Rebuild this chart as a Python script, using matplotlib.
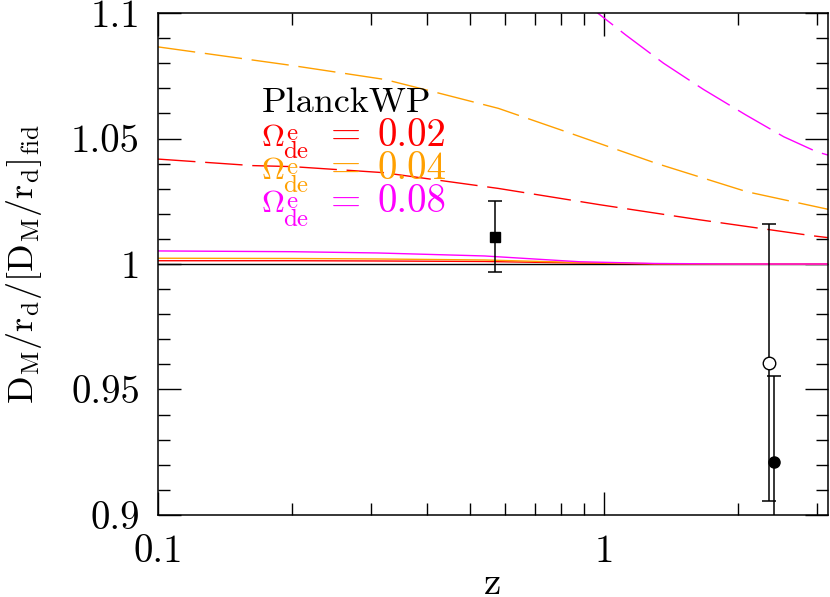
import numpy as np
import matplotlib
matplotlib.use('Agg')
import matplotlib.pyplot as plt
from matplotlib.ticker import MultipleLocator, LogLocator, NullFormatter

plt.rcParams['font.family'] = ['cmr10', 'DejaVu Serif']
plt.rcParams['mathtext.fontset'] = 'cm'
plt.rcParams['axes.unicode_minus'] = False

W, H = 830, 597

# BAO data points (z, D_M/r_d ratio, error)
z_sq, v_sq, e_sq = [0.571], [1.0109], [0.014]
z_open, v_open, e_open = [2.35], [0.9607], [0.0553]
z_fill, v_fill, e_fill = [2.41], [0.9212], [0.0342]

# solid curves
z_sol = [0.1, 0.2, 0.31, 0.54, 0.88, 1.3, 2.0, 3.18]
mag_sol = [1.0052, 1.0049, 1.0044, 1.0032, 1.0009, 1.0002, 1.0, 1.0]
ora_sol = [1.0023, 1.0022, 1.0020, 1.0016, 1.0006, 1.0001, 1.0, 1.0]
red_sol = [1.0013, 1.0013, 1.0012, 1.0010, 1.0004, 1.0, 1.0, 1.0]

# dashed curves
z_red_d = [0.1, 0.163, 0.2, 0.32, 0.58, 0.98, 1.64, 2.92, 3.18]
red_d = [1.0418, 1.0392, 1.0388, 1.0364, 1.0301, 1.0236, 1.0176, 1.0113, 1.0105]
z_ora_d = [0.1, 0.196, 0.233, 0.323, 0.407, 0.58, 0.822, 1.31, 2.09, 3.18]
ora_d = [1.0865, 1.0793, 1.0773, 1.0735, 1.0690, 1.0620, 1.0527, 1.0401, 1.0288, 1.0218]
z_mag_d = [0.9, 0.968, 1.12, 1.36, 1.67, 2.08, 2.53, 3.0, 3.18]
mag_d = [1.1044, 1.1, 1.0912, 1.0800, 1.0696, 1.0594, 1.0507, 1.0447, 1.0434]

labels = ['0.02', '0.04', '0.08']
colors = ['#ff0000', '#ffa000', '#ff00ff']


def px(x, y):
    # pixel position (from top-left) -> figure fraction
    return x / W, 1 - y / H


fig = plt.figure(figsize=(8.3, 5.97), dpi=100)
ax = fig.add_axes([0.1904, 0.1374, 0.8072, 0.8408])

ax.plot([0.1, 3.18], [1.0, 1.0], color='k', lw=1.0)
ax.plot(z_sol, red_sol, color=colors[0], lw=1.0)
ax.plot(z_sol, ora_sol, color=colors[1], lw=1.0)
ax.plot(z_sol, mag_sol, color=colors[2], lw=1.0)

ax.plot(z_red_d, red_d, color=colors[0], lw=1.0, dashes=(27, 7))
ax.plot(z_ora_d, ora_d, color=colors[1], lw=1.0, dashes=(27, 7))
ax.plot(z_mag_d, mag_d, color=colors[2], lw=1.0, dashes=(27, 7))

eb = dict(color='k', elinewidth=1.1, capsize=5, capthick=1.1, lw=0)
ax.errorbar(z_sq, v_sq, yerr=e_sq, fmt='s', ms=6.5, **eb)
ax.errorbar(z_open, v_open, yerr=e_open, fmt='o', ms=9, mfc='white', mec='k', **eb)
ax.errorbar(z_fill, v_fill, yerr=e_fill, fmt='o', ms=8, **eb)

ax.set_xscale('log')
ax.set_xlim(0.1, 3.18)
ax.set_ylim(0.9, 1.1)
ax.set_xticks([0.1, 1], ['0.1', '1'])
ax.xaxis.set_minor_locator(LogLocator(subs=np.arange(2, 10)))
ax.xaxis.set_minor_formatter(NullFormatter())
ax.set_yticks([0.9, 0.95, 1.0, 1.05, 1.1], ['0.9', '0.95', '1', '1.05', '1.1'])
ax.yaxis.set_minor_locator(MultipleLocator(0.01))

ax.tick_params(which='both', direction='in', top=True, right=True, width=1.0,
               labelsize=28)
ax.tick_params(which='major', length=16.5)
ax.tick_params(which='minor', length=8.5)
ax.tick_params(axis='x', pad=14)
ax.tick_params(axis='y', pad=13)
for s in ax.spines.values():
    s.set_linewidth(1.1)

# legend-like text block
fig.text(*px(262, 112), 'PlanckWP', fontsize=26, va='baseline', ha='left')
rows_y = [145.5, 179, 212.5]
for lab, c, yy in zip(labels, colors, rows_y):
    fig.text(*px(261, yy), r'$\Omega$', fontsize=23, color=c, va='baseline', ha='left')
    fig.text(*px(286, yy - 5), 'e', fontsize=18, color=c, va='baseline', ha='left')
    fig.text(*px(283, yy + 13), 'de', fontsize=18, color=c, va='baseline', ha='left')
    fig.text(*px(331, yy), '=', fontsize=28, color=c, va='baseline', ha='left')
    fig.text(*px(377, yy), lab, fontsize=28, color=c, va='baseline', ha='left')

fig.text(*px(24, 264), r'$\mathrm{D_M/r_d/[D_M/r_d]_{fid}}$',
         rotation=90, ha='center', va='center', fontsize=26)
fig.text(*px(493, 594), 'z', ha='center', va='baseline', fontsize=28)

fig.savefig('out.png', dpi=100)
